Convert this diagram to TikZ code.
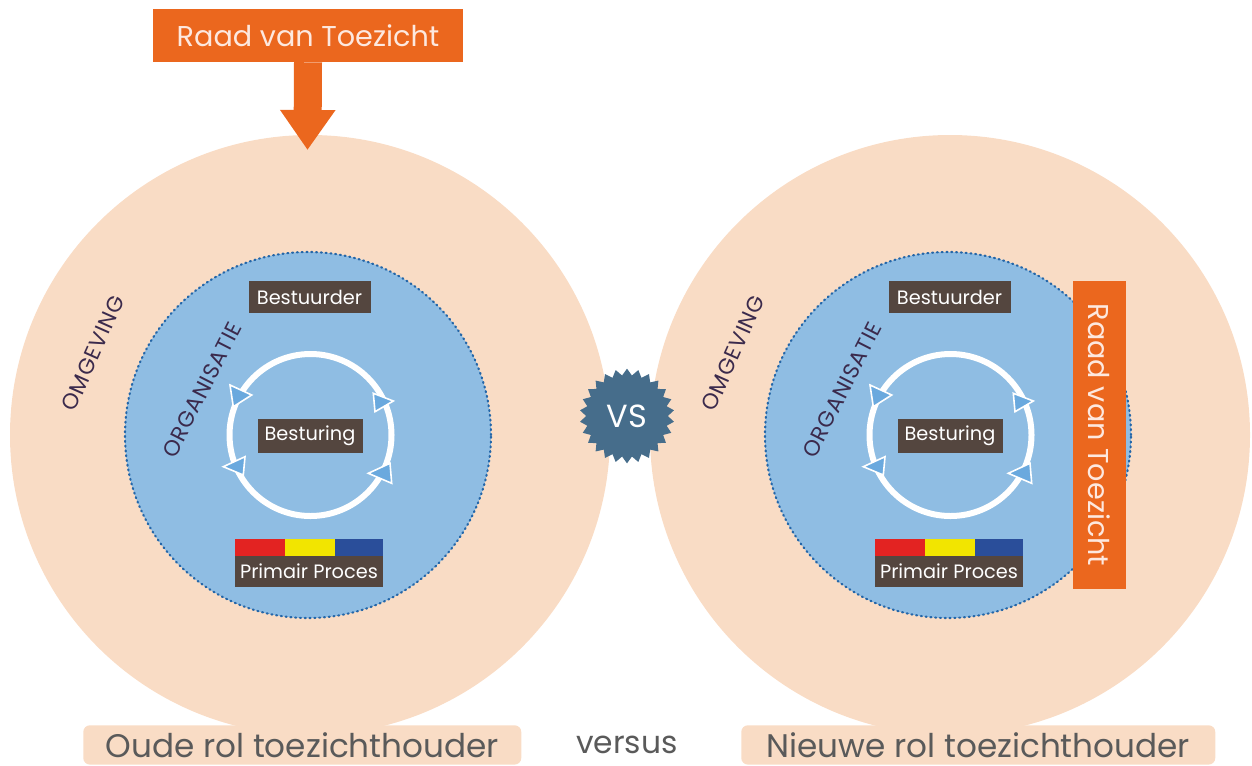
\documentclass[tikz,border=0pt]{standalone}
\usepackage{fontspec}
\setmainfont{Poppins}
\usetikzlibrary{arrows.meta,shapes.geometric}
\definecolor{peach}{HTML}{F9DCC5}
\definecolor{innerblue}{HTML}{8FBDE3}
\definecolor{dotblue}{HTML}{2466A8}
\definecolor{boxbrown}{HTML}{54463F}
\definecolor{rvtorange}{HTML}{EB671E}
\definecolor{ppred}{HTML}{E32322}
\definecolor{ppyellow}{HTML}{F2E500}
\definecolor{ppblue}{HTML}{2A4E9A}
\definecolor{arrowfill}{HTML}{6AA9DE}
\definecolor{starblue}{HTML}{466D8B}
\definecolor{labpurple}{HTML}{3B2A4C}
\definecolor{labgrey}{HTML}{5A5A5A}
\definecolor{rvttext}{HTML}{FDE8DF}
\tikzset{
  bigcircle/.style={circle, fill=peach, minimum size=450pt, inner sep=0pt},
  orgcircle/.style={circle, fill=innerblue, inner sep=0pt, minimum size=274.5pt},
  orgdots/.style={draw=dotblue, line width=1.6pt, dash pattern=on 0.8pt off 2.8pt, line cap=round},
  loopring/.style={circle, draw=white, line width=4.5pt, minimum size=121.5pt, inner sep=0pt},
  brownbox/.style={fill=boxbrown, text=white, font=\fontsize{14.5pt}{16pt}\selectfont, inner sep=0pt},
  looptri/.style={fill=arrowfill, draw=white, line width=1.2pt, line join=miter},
  ringlabel/.style={text=labpurple, inner sep=1pt, font=\fontsize{16.5pt}{18pt}\selectfont\addfontfeature{LetterSpace=4}},
  rvtbox/.style={fill=rvtorange, text=rvttext, font=\fontsize{21.5pt}{24pt}\selectfont, inner sep=0pt},
  bottomlabel/.style={fill=peach, rounded corners=5pt, text=labgrey, font=\fontsize{24.5pt}{27pt}\selectfont, inner sep=0pt, minimum height=29.5pt},
}
\begin{document}
\begin{tikzpicture}[x=0.75pt,y=-0.75pt]
\useasboundingbox (0,0) rectangle (1252,765);
% outer circles
\node[bigcircle] (omgL) at (310,435) {};
\node[bigcircle] (omgR) at (950,435) {};
\foreach \s/\n in {0/L,640/R}{
  \node[orgcircle] (org\n) at (308+\s,435) {};
  \draw[orgdots] (org\n.center) circle [radius=137.25pt];
  \node[ringlabel, rotate=66] (omglab\n) at (93+\s,353) {OMGEVING};
  \node[ringlabel, rotate=63] (orglab\n) at (202+\s,390) {ORGANISATIE};
  \node[loopring] (loop\n) at (310.5+\s,435) {};
  \begin{scope}[xshift={\s*0.75pt}]
    \filldraw[looptri] (230,385) -- (251.7,395) -- (233.3,406.7) -- cycle;
    \filldraw[looptri] (373.3,393.3) -- (393.3,401) -- (375,411.7) -- cycle;
    \filldraw[looptri] (223.3,466.7) -- (245,456.7) -- (243.3,475) -- cycle;
    \filldraw[looptri] (368.3,473.3) -- (390,463.3) -- (391.7,483.3) -- cycle;
    \fill[ppred] (235,539) rectangle (285,556);
    \fill[ppyellow] (285,539) rectangle (335,556);
    \fill[ppblue] (335,539) rectangle (383,556);
  \end{scope}
  \node[brownbox, minimum width=91.5pt, minimum height=24pt] (best\n) at (309.5+\s,297) {Bestuurder};
  \node[brownbox, minimum width=78.75pt, minimum height=25.5pt] (sturing\n) at (310+\s,436) {Besturing};
  \node[brownbox, minimum width=111pt, minimum height=23.25pt] (pp\n) at (309+\s,571.5) {Primair Proces};
}
% top Raad van Toezicht with arrow
\node[rvtbox, minimum width=232.5pt, minimum height=39.75pt] (rvtL) at (308,35.5) {Raad van Toezicht};
\coordinate (rvttip) at (307.5,150);
\draw[rvtorange, line width=21pt, -{Triangle[length=30pt,width=39.5pt]}] (rvtL.south) -- (rvttip);
% right Raad van Toezicht
\node[rvtbox, rotate=-90, minimum width=231pt, minimum height=39.75pt] (rvtR) at (1099.5,435) {Raad van Toezicht};
% VS badge
\node[star, star points=26, star point ratio=1.16, fill=starblue, minimum size=71pt, inner sep=0pt, text=white, font=\fontsize{24pt}{26pt}\selectfont] (vs) at (627,416) {VS};
% bottom labels
\node[bottomlabel, minimum width=328.5pt, anchor=north west] (oude) at (83,725) {Oude rol toezichthouder};
\node[text=labgrey, font=\fontsize{23.5pt}{26pt}\selectfont] (versus) at (627,745) {versus};
\node[bottomlabel, minimum width=355.5pt, anchor=north west] (nieuwe) at (741,725) {Nieuwe rol toezichthouder};
\end{tikzpicture}
\end{document}
